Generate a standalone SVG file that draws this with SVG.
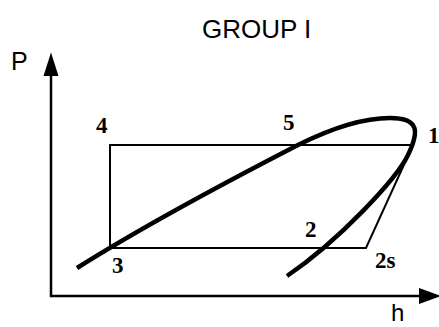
<svg xmlns="http://www.w3.org/2000/svg" width="439" height="327" viewBox="0 0 439 327">
<style>
.ax{stroke:#000;stroke-width:2.5;fill:none}
.thin{stroke:#000;stroke-width:2;fill:none;stroke-linejoin:miter}
.curve{stroke:#000;stroke-width:4.5;fill:none;stroke-linecap:butt}
.sans{font-family:"Liberation Sans",Arial,sans-serif;fill:#000}
.num{font-family:"Liberation Serif","Times New Roman",serif;font-weight:bold;font-size:23px;fill:#000}
</style>
<rect width="439" height="327" fill="#fff"/>
<g id="axes">
<line class="ax" x1="51" y1="297" x2="51" y2="74"/>
<polygon points="43.5,76 51,52.5 58.5,76" fill="#000"/>
<line class="ax" x1="50" y1="296" x2="421" y2="296"/>
<polygon points="419,288 441,296 419,304" fill="#000"/>
</g>
<g id="cycle">
<path class="thin" d="M413,145 L110,145 L110,248 L366,248 Z"/>
</g>
<g id="dome">
<path class="curve" d="M77,268 C150,222 230,180 298,145 C330,129 360,118 390,118 C420,118 419,132 408,155 C397,178 340,240 287,276"/>
</g>
<g id="labels">
<text class="sans" x="391" y="321" font-size="24">h</text>
<text class="sans" x="202" y="38" font-size="26">GROUP I</text>
<text class="sans" x="11" y="70" font-size="25">P</text>
<text class="num" x="96" y="133">4</text>
<text class="num" x="283" y="130">5</text>
<text class="num" x="428" y="143">1</text>
<text class="num" x="112" y="273">3</text>
<text class="num" x="305" y="237">2</text>
<text class="num" x="375" y="268">2s</text>
</g>
</svg>
